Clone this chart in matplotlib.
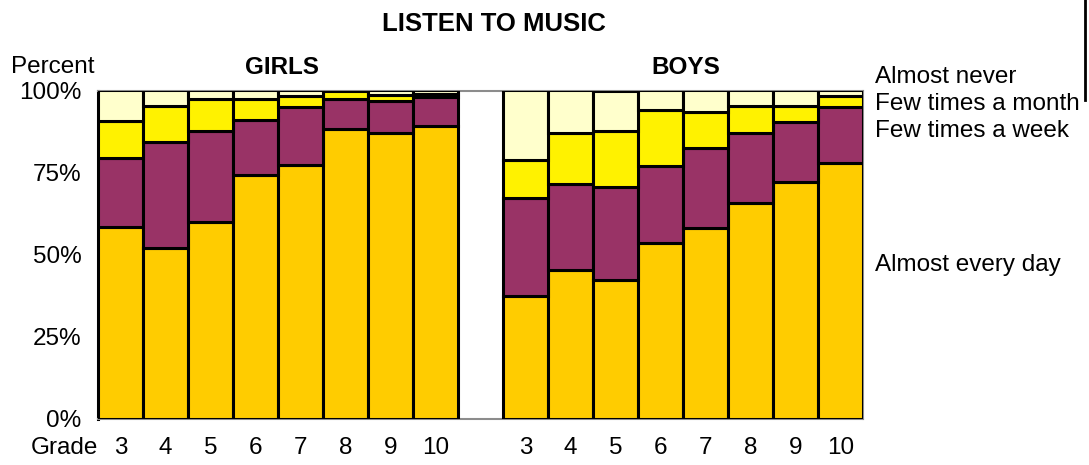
import numpy as np
import matplotlib.pyplot as plt
from matplotlib.lines import Line2D
from matplotlib.transforms import blended_transform_factory

plt.rcParams["font.family"] = ["Liberation Sans", "DejaVu Sans"]

grades = ["3", "4", "5", "6", "7", "8", "9", "10"]
categories = ["Almost every day", "Few times a week", "Few times a month", "Almost never"]

# cumulative tops (percent)
girls_every_day = [58.4, 51.9, 59.8, 74.2, 77.3, 88.3, 87.0, 89.3]
girls_week_top = [79.5, 84.4, 87.7, 90.9, 94.9, 97.4, 96.8, 98.1]
girls_month_top = [90.8, 95.3, 97.3, 97.3, 98.3, 100.0, 98.6, 98.8]

boys_every_day = [37.3, 45.3, 42.2, 53.4, 58.2, 65.8, 72.2, 77.8]
boys_week_top = [67.3, 71.4, 70.7, 77.1, 82.6, 87.0, 90.3, 95.1]
boys_month_top = [78.8, 87.0, 87.7, 94.1, 93.4, 95.3, 95.3, 98.4]

COLORS = ["#ffcc00", "#993366", "#fff200", "#ffffcc"]
FRAME_GRAY = "#8c8c8c"
FS = 17.5


def layers(every_day, week_top, month_top):
    ed = np.array(every_day)
    wk = np.array(week_top) - ed
    mo = np.array(month_top) - np.array(week_top)
    nv = 100.0 - np.array(month_top)
    return [ed, wk, mo, nv]


fig = plt.figure(figsize=(10.89, 4.65), dpi=100)
ax = fig.add_axes([98 / 1089, 46.5 / 465, 765 / 1089, 328 / 465])

girls_x = np.arange(8)
boys_x = np.arange(9, 17)

for xs, data in [(girls_x, layers(girls_every_day, girls_week_top, girls_month_top)),
                 (boys_x, layers(boys_every_day, boys_week_top, boys_month_top))]:
    bottom = np.zeros(len(xs))
    for vals, color in zip(data, COLORS):
        ax.bar(xs, vals, bottom=bottom, width=1.0, color=color, edgecolor="black",
               linewidth=2.2, zorder=3)
        bottom = bottom + vals

ax.set_xlim(-0.5, 16.5)
ax.set_ylim(0, 100)
for side in ["top", "bottom", "left", "right"]:
    ax.spines[side].set_color(FRAME_GRAY)
    ax.spines[side].set_linewidth(1.5)
ax.spines["left"].set_color("black")
ax.spines["left"].set_linewidth(2.2)

ax.set_yticks([0, 25, 50, 75, 100])
ax.set_yticklabels(["0%", "25%", "50%", "75%", "100%"])
ax.tick_params(axis="y", length=0, labelsize=FS, pad=12)
ax.set_xticks([])

# grade labels under each bar, on one row with "Grade"
row = blended_transform_factory(ax.transData, fig.transFigure)
for xs in (girls_x, boys_x):
    for x, g in zip(xs, grades):
        ax.text(x, 1 - 448 / 465, g, transform=row, fontsize=FS, ha="center", va="center")

fig.text(64 / 1089, 1 - 448 / 465, "Grade", fontsize=FS, ha="center", va="center")
fig.text(53 / 1089, 1 - 67 / 465, "Percent", fontsize=FS, ha="center", va="center")
fig.text(282 / 1089, 1 - 67 / 465, "GIRLS", fontsize=FS, fontweight="bold", ha="center", va="center")
fig.text(686 / 1089, 1 - 67 / 465, "BOYS", fontsize=FS, fontweight="bold", ha="center", va="center")
fig.text(494 / 1089, 1 - 24 / 465, "LISTEN TO MUSIC", fontsize=18.5, fontweight="bold",
         ha="center", va="center")

legend_y = [77, 104, 131, 265]
legend_text = ["Almost never", "Few times a month", "Few times a week", "Almost every day"]
for y, label in zip(legend_y, legend_text):
    fig.text(875 / 1089, 1 - y / 465, label, fontsize=FS, ha="left", va="center")

# page border at the right edge
fig.add_artist(Line2D([1085 / 1089, 1085 / 1089], [1 - 100 / 465, 1.0], color="black",
                      linewidth=2, transform=fig.transFigure))

fig.savefig("out.png", dpi=100)
plt.close(fig)
